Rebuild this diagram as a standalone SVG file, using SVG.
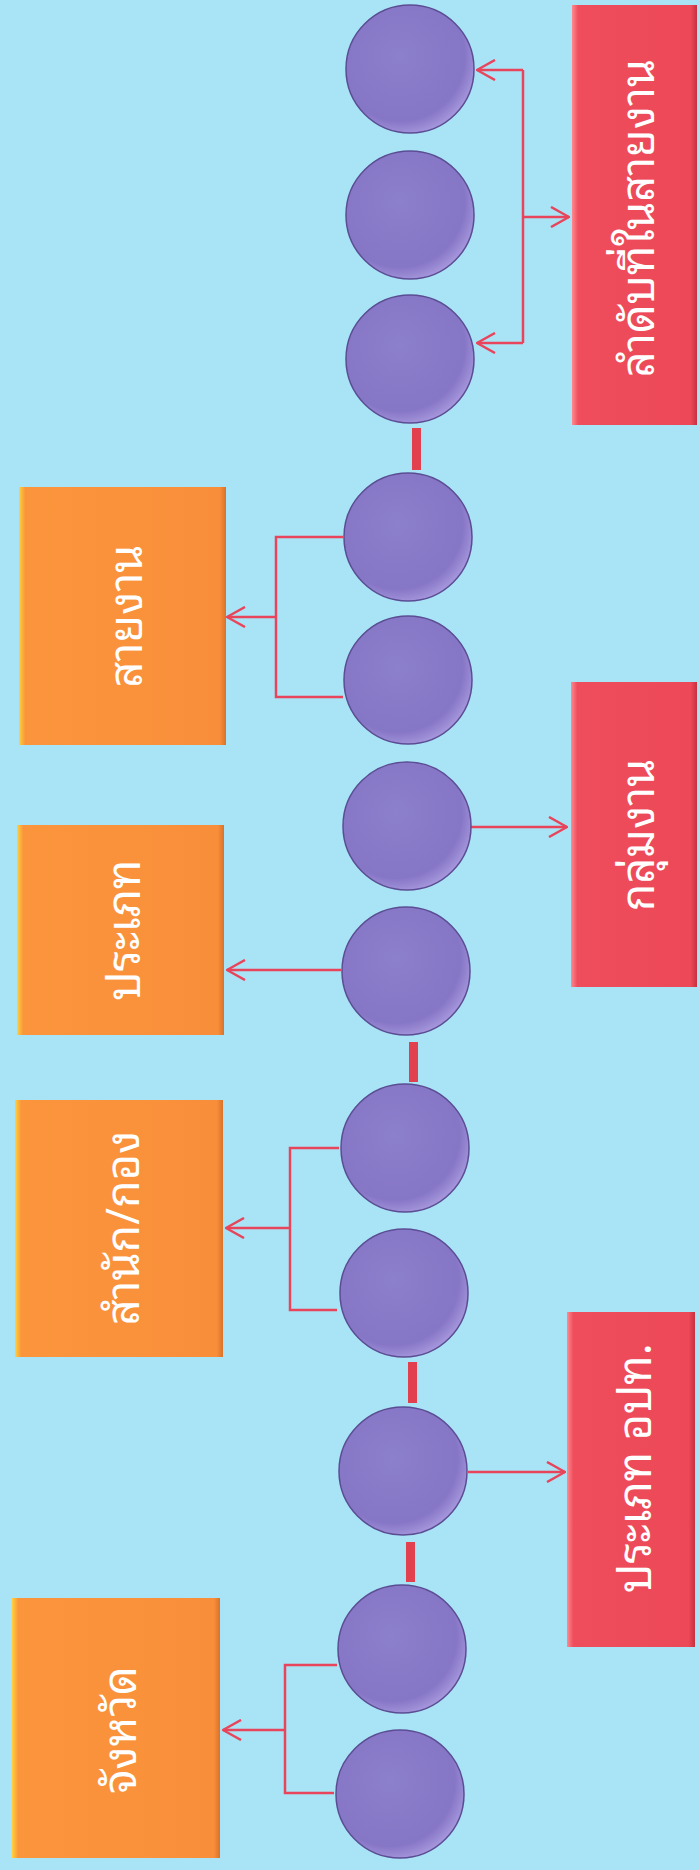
<svg xmlns="http://www.w3.org/2000/svg" width="699" height="1870" viewBox="0 0 699 1870">
<defs>
<radialGradient id="gCirc" cx="0.42" cy="0.4" r="0.62">
<stop offset="0" stop-color="#8c7fcb"/>
<stop offset="0.82" stop-color="#8676c6"/>
<stop offset="1" stop-color="#a596dc"/>
</radialGradient>
<linearGradient id="gOr" x1="0" y1="0" x2="1" y2="0">
<stop offset="0" stop-color="#ffd23c"/>
<stop offset="0.03" stop-color="#fb953c"/>
<stop offset="0.97" stop-color="#f98e3a"/>
<stop offset="1" stop-color="#d9722a"/>
</linearGradient>
<linearGradient id="gRed" x1="0" y1="0" x2="1" y2="0">
<stop offset="0" stop-color="#ff8a90"/>
<stop offset="0.05" stop-color="#ef4d5c"/>
<stop offset="0.95" stop-color="#ec4858"/>
<stop offset="1" stop-color="#c8303f"/>
</linearGradient>
<marker id="arr" viewBox="0 0 20 22" refX="19" refY="11" markerWidth="20" markerHeight="22" markerUnits="userSpaceOnUse" orient="auto">
<path d="M1,1 L19,11 L1,21" fill="none" stroke="#e8455c" stroke-width="2.5"/>
</marker>
</defs>
<style>
.c{fill:url(#gCirc);stroke:#5b4d94;stroke-width:1.5}
.o{fill:url(#gOr)}
.r{fill:url(#gRed)}
.t{fill:#ffffff;font-family:'Noto Sans Thai Looped','Noto Sans Thai','Noto Sans','Leelawadee UI',Tahoma,sans-serif;font-size:45px;text-anchor:middle;dominant-baseline:central}
.ln{fill:none;stroke:#e8455c;stroke-width:2.5}
.ar{fill:none;stroke:#e8455c;stroke-width:2.5;marker-end:url(#arr)}
.bar{fill:#e2404f}
</style>
<rect x="0" y="0" width="699" height="1870" fill="#a8e4f5"/>

<g id="connectors">
<rect class="bar" x="412" y="428" width="9" height="42"/>
<rect class="bar" x="409" y="1042" width="9" height="40"/>
<rect class="bar" x="408" y="1362" width="9" height="41"/>
<rect class="bar" x="406" y="1542" width="9" height="40"/>
<path class="ln" d="M523,70 V343"/>
<path class="ar" d="M523,70 H477"/>
<path class="ar" d="M523,343 H477"/>
<path class="ar" d="M523,217 H569"/>
<path class="ln" d="M343,537 H276 V697 H343"/>
<path class="ar" d="M276,617 H227"/>
<path class="ar" d="M470,827 H567"/>
<path class="ar" d="M341,970 H227"/>
<path class="ln" d="M339,1148 H290 V1310 H337"/>
<path class="ar" d="M290,1228 H226"/>
<path class="ar" d="M468,1472 H565"/>
<path class="ln" d="M337,1665 H285 V1793 H334"/>
<path class="ar" d="M285,1730 H223"/>
</g>

<g id="n1"><circle class="c" cx="410" cy="69" r="64"/></g>
<g id="n2"><circle class="c" cx="410" cy="215" r="64"/></g>
<g id="n3"><circle class="c" cx="410" cy="359" r="64"/></g>
<g id="n4"><circle class="c" cx="408" cy="537" r="64"/></g>
<g id="n5"><circle class="c" cx="408" cy="680" r="64"/></g>
<g id="n6"><circle class="c" cx="407" cy="826" r="64"/></g>
<g id="n7"><circle class="c" cx="406" cy="971" r="64"/></g>
<g id="n8"><circle class="c" cx="405" cy="1148" r="64"/></g>
<g id="n9"><circle class="c" cx="404" cy="1293" r="64"/></g>
<g id="n10"><circle class="c" cx="403" cy="1471" r="64"/></g>
<g id="n11"><circle class="c" cx="402" cy="1649" r="64"/></g>
<g id="n12"><circle class="c" cx="400" cy="1794" r="64"/></g>

<g id="box-lamdap"><rect class="r" x="572" y="5" width="125" height="420"/><text class="t" transform="translate(634,218) rotate(-90)">ลำดับที่ในสายงาน</text></g>
<g id="box-klumngan"><rect class="r" x="571" y="682" width="126" height="305"/><text class="t" transform="translate(634,835) rotate(-90)">กลุ่มงาน</text></g>
<g id="box-prapet-opt"><rect class="r" x="567" y="1312" width="128" height="335"/><text class="t" transform="translate(631,1468) rotate(-90)">ประเภท อปท.</text></g>
<g id="box-saingan"><rect class="o" x="19" y="487" width="207" height="258"/><text class="t" transform="translate(122,616) rotate(-90)">สายงาน</text></g>
<g id="box-prapet"><rect class="o" x="17" y="825" width="207" height="210"/><text class="t" transform="translate(120,930) rotate(-90)">ประเภท</text></g>
<g id="box-samnak"><rect class="o" x="15" y="1100" width="208" height="257"/><text class="t" transform="translate(119,1228) rotate(-90)">สำนัก/กอง</text></g>
<g id="box-changwat"><rect class="o" x="12" y="1598" width="208" height="260"/><text class="t" transform="translate(116,1730) rotate(-90)">จังหวัด</text></g>
</svg>
